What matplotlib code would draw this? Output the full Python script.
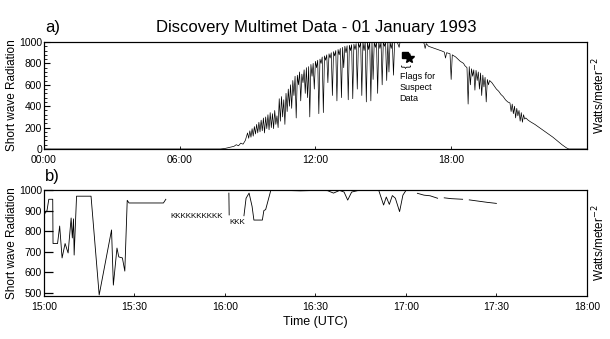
import numpy as np
import matplotlib
matplotlib.use("Agg")
import matplotlib.pyplot as plt
from matplotlib.ticker import AutoMinorLocator, FixedLocator

plt.rcParams['font.family'] = ['Liberation Sans', 'DejaVu Sans']

# ---- panel a: full day, hours UTC ----
day_hours = [0.0, 7.8, 8.0, 8.2, 8.4, 8.5, 8.6, 8.7, 8.8, 8.9,
             9.0, 9.05, 9.1, 9.15, 9.2, 9.25, 9.3, 9.35, 9.4, 9.45,
             9.5, 9.55, 9.6, 9.65, 9.7, 9.75, 9.8, 9.85, 9.9, 9.95,
             10.0, 10.05, 10.1, 10.15, 10.2, 10.25, 10.3, 10.35, 10.4, 10.45,
             10.5, 10.55, 10.6, 10.65, 10.7, 10.75, 10.8, 10.85, 10.9, 10.95,
             11.0, 11.05, 11.1, 11.15, 11.2, 11.25, 11.3, 11.35, 11.4, 11.45,
             11.5, 11.55, 11.6, 11.65, 11.7, 11.75, 11.8, 11.85, 11.9, 11.95,
             12.0, 12.05, 12.1, 12.15, 12.2, 12.25, 12.3, 12.35, 12.4, 12.45,
             12.5, 12.55, 12.6, 12.65, 12.7, 12.75, 12.8, 12.85, 12.9, 12.95,
             13.0, 13.05, 13.1, 13.15, 13.2, 13.25, 13.3, 13.35, 13.4, 13.45,
             13.5, 13.55, 13.6, 13.65, 13.7, 13.75, 13.8, 13.85, 13.9, 13.95,
             14.0, 14.05, 14.1, 14.15, 14.2, 14.25, 14.3, 14.35, 14.4, 14.45,
             14.5, 14.55, 14.6, 14.65, 14.7, 14.75, 14.8, 14.85, 14.9, 14.95,
             15.0, 15.05, 15.1, 15.15, 15.2, 15.25, 15.3, 15.35, 15.4, 15.45,
             15.5, 15.6, 15.7, 15.75, 16.0, 16.5, 16.7, 16.8, 16.85, 16.9,
             17.0, 17.2, 17.4, 17.6, 17.7, 17.75, 17.8, 17.95, 18.0, 18.05,
             18.2, 18.4, 18.55, 18.6, 18.65,
             18.7, 18.75, 18.8, 18.85, 18.9, 18.95, 19.0, 19.05, 19.1, 19.15,
             19.2, 19.25, 19.3, 19.35, 19.4, 19.45, 19.5, 19.55, 19.6, 19.65,
             19.7, 19.8, 19.9, 20.0, 20.1, 20.2, 20.3, 20.4, 20.5, 20.6,
             20.65, 20.7, 20.75, 20.8, 20.85, 20.9, 20.95, 21.0, 21.05, 21.1,
             21.15, 21.2, 21.25, 21.3, 21.4, 21.5, 21.7, 21.9, 22.1, 22.3,
             22.5, 22.7, 22.9, 23.1, 23.2, 24.0]
day_rad = [0, 0, 5, 15, 25, 40, 30, 55, 45, 80,
           150, 100, 170, 110, 190, 120, 210, 140, 230, 150,
           250, 160, 270, 170, 290, 150, 300, 190, 320, 180,
           340, 200, 330, 190, 360, 230, 310, 200, 470, 260,
           490, 300, 460, 230, 520, 350, 560, 400, 600, 380,
           640, 500, 680, 290, 690, 600, 720, 450, 700, 620,
           740, 520, 760, 480, 770, 300, 790, 680, 800, 560,
           820, 760, 830, 330, 840, 800, 860, 340, 870, 830,
           880, 620, 890, 850, 900, 500, 910, 870, 920, 450,
           930, 880, 940, 480, 950, 760, 960, 900, 965, 460,
           970, 920, 975, 470, 980, 930, 985, 560, 990, 950,
           995, 500, 1000, 920, 1000, 440, 1000, 930, 1000, 450,
           1000, 650, 1000, 950, 1000, 520, 1000, 940, 1000, 600,
           1000, 960, 1000, 640, 1000, 720, 1000, 940, 1000, 690,
           1000, 1010, 950, 1010, 1030, 1020, 1000, 990, 940, 985,
           960, 945, 930, 915, 905, 850, 900, 890, 650, 880,
           860, 820, 800, 780, 770,
           760, 420, 770, 600, 750, 680, 740, 550, 735, 640,
           720, 560, 710, 500, 690, 580, 670, 440, 650, 600,
           640, 620, 590, 560, 540, 510, 490, 460, 440, 430,
           350, 420, 330, 400, 290, 380, 310, 360, 260, 340,
           250, 320, 280, 290, 270, 255, 230, 200, 170, 140,
           110, 75, 40, 10, 0, 0]
day_ticks = [0, 6, 12, 18, 24]
day_labels = ['00:00', '06:00', '12:00', '18:00', '']

# suspect data flags (hours, W/m2)
flag_x = [15.95, 16.15]
flag_y = [880, 850]
brace_x, brace_y = 16.05, 775
note_x, note_y = 15.72, 720

# ---- panel b: 15:00-18:00, minutes after 15:00 ----
zoom_min = [0, 1.0, 1.6, 2.9, 3.0, 4.5, 5.2, 6.0, 7.0, 8.0,
            9.0, 9.4, 9.8, 10.0, 10.8, 15.6, 18.3, 22.4, 23.0, 24.2,
            24.8, 26.0, 26.8, 27.6, 28.2, 39.6, 40.4, np.nan,
            61.3, 61.4, np.nan,
            66.3, 67.0, 68.0, 69.0, 69.6, 72.4, 72.9, 73.5, 75.2, 80,
            85, 90, 94, 96, 98, 99.5, 100.7, 102, 104, 106,
            111, 112.6, 113.5, 114.5, 115.5, 116.5, 117.9, 119, 120.1, np.nan,
            123.8, 126, 128, 130.5, np.nan, 132.7, 135, 138.8, np.nan,
            141, 144, 147, 150]
zoom_rad = [880, 900, 955, 955, 740, 740, 825, 670, 740, 694,
            864, 767, 860, 684, 970, 970, 490, 806, 538, 718,
            675, 670, 606, 950, 937, 937, 955, np.nan,
            985, 879, np.nan,
            875, 960, 985, 920, 854, 854, 900, 905, 998, 998,
            996, 998, 997, 985, 998, 990, 951, 990, 997, 998,
            998, 927, 966, 930, 973, 960, 895, 975, 1000, np.nan,
            984, 975, 972, 960, np.nan, 962, 958, 955, np.nan,
            952, 946, 940, 935]
zoom_ticks = [0, 30, 60, 90, 120, 150, 180]
zoom_labels = ['15:00', '15:30', '16:00', '16:30', '17:00', '17:30', '18:00']

k_flags = ['KKKKKKKKKK', 'KKK']
k_x = [50.5, 64.2]
k_y = [869, 840]

fig = plt.figure(figsize=(6.1, 3.39), dpi=100)
ax1 = fig.add_axes([0.0721, 0.5605, 0.890, 0.3156])
ax2 = fig.add_axes([0.0721, 0.1268, 0.890, 0.3127])

# panel a
ax1.plot(day_hours, day_rad, color='black', lw=0.5)
ax1.set_xlim(0, 24)
ax1.set_ylim(0, 1000)
ax1.xaxis.set_major_locator(FixedLocator(day_ticks))
ax1.set_xticklabels(day_labels)
ax1.set_yticks([0, 200, 400, 600, 800, 1000])
ax1.yaxis.set_minor_locator(AutoMinorLocator(5))
ax1.tick_params(axis='both', which='both', direction='in', labelsize=7.5,
                right=True)
ax1.tick_params(axis='y', which='major', length=4.5, width=0.8, pad=1.5)
ax1.tick_params(axis='y', which='minor', length=2.2, width=0.6)
ax1.tick_params(axis='x', which='major', length=2.5, width=0.6, pad=4)
ax1.set_ylabel('Short wave Radiation', fontsize=8.5)
ax1.yaxis.set_label_coords(-0.047, 0.5)
r1 = ax1.twinx()
r1.set_ylim(0, 1000)
r1.set_yticks([])
r1.set_ylabel('Watts/meter$^{-2}$', fontsize=8.5, labelpad=3)

ax1.plot(flag_x[:1], flag_y[:1], 's', color='black', ms=5)
ax1.plot(flag_x[1:], flag_y[1:], '*', color='black', ms=7)
ax1.text(brace_x, brace_y, '{', rotation=90, fontsize=8, ha='center',
         va='center')
ax1.text(note_x, note_y, 'Flags for\nSuspect\nData', fontsize=6.5,
         ha='left', va='top', linespacing=1.3)

# panel b
ax2.plot(zoom_min, zoom_rad, color='black', lw=0.6)
ax2.set_xlim(0, 180)
ax2.set_ylim(485, 1000)
ax2.set_xticks(zoom_ticks)
ax2.set_xticklabels(zoom_labels)
ax2.set_yticks([500, 600, 700, 800, 900, 1000])
ax2.tick_params(axis='both', direction='in', labelsize=7.5, right=True)
ax2.tick_params(axis='y', length=6.5, width=0.9, pad=1.5)
ax2.tick_params(axis='x', length=2.5, width=0.6, pad=4)
ax2.set_ylabel('Short wave Radiation', fontsize=8.5)
ax2.yaxis.set_label_coords(-0.047, 0.5)
ax2.set_xlabel('Time (UTC)', fontsize=9, labelpad=3)
r2 = ax2.twinx()
r2.set_ylim(485, 1000)
r2.set_yticks([])
r2.set_ylabel('Watts/meter$^{-2}$', fontsize=8.5, labelpad=3)
for lab, kx, ky in zip(k_flags, k_x, k_y):
    ax2.text(kx, ky, lab, fontsize=5.8, ha='center', va='center')

fig.text(0.074, 0.918, 'a)', fontsize=12, ha='left', va='center')
fig.text(0.074, 0.478, 'b)', fontsize=12, ha='left', va='center')
fig.text(0.518, 0.918, 'Discovery Multimet Data - 01 January 1993',
         fontsize=12, ha='center', va='center')

fig.savefig('out.png', dpi=100, facecolor='white')
